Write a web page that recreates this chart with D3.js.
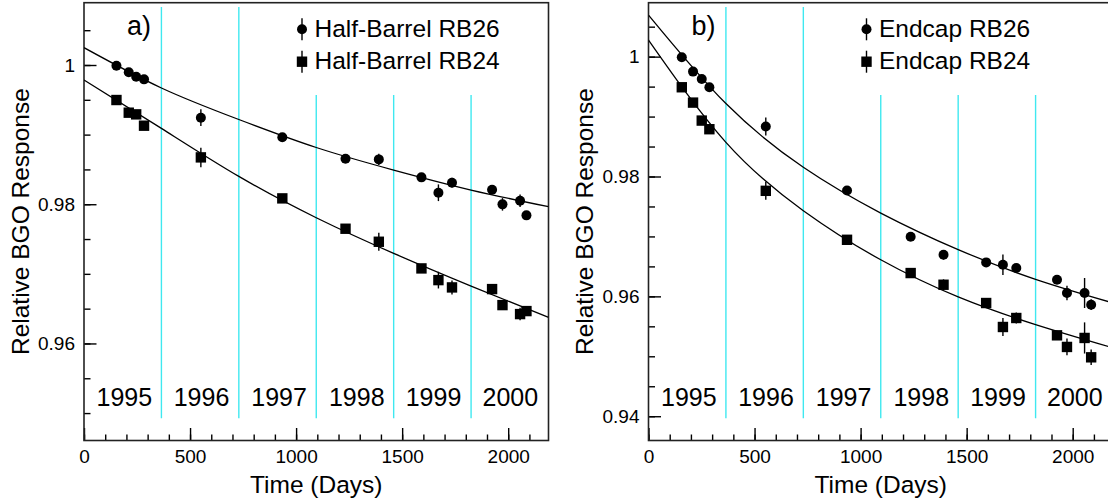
<!DOCTYPE html>
<html>
<head>
<meta charset="utf-8">
<script src="https://cdn.jsdelivr.net/npm/d3@7"></script>
<style>
body { margin: 0; background: #fff; }
svg text { font-family: "Liberation Sans", Arial, Helvetica, sans-serif; fill: #000; }
</style>
</head>
<body>
<div id="chart"></div>
<script>
var barrelDays = [153, 211, 246, 283, 551, 935, 1233, 1390, 1591, 1671, 1735, 1924, 1973, 2056, 2086];
var barrelRB26 = [0.9999, 0.99895, 0.99832, 0.99794, 0.99243, 0.98961, 0.98654, 0.98644, 0.98386, 0.98165, 0.98309, 0.98209, 0.97998, 0.9805, 0.9784];
var barrelRB26Err = [0.0003, 0.0003, 0.0003, 0.0003, 0.0012, 0.0004, 0.0004, 0.0008, 0.0004, 0.0012, 0.0007, 0.0004, 0.0009, 0.0009, 0.0006];
var barrelRB24 = [0.99497, 0.99315, 0.99291, 0.99128, 0.98673, 0.98084, 0.97648, 0.97461, 0.97078, 0.9691, 0.96805, 0.96781, 0.96551, 0.96422, 0.96465];
var barrelRB24Err = [0.0003, 0.0003, 0.0003, 0.0003, 0.0014, 0.0004, 0.0004, 0.0013, 0.0004, 0.0012, 0.001, 0.0004, 0.0005, 0.0009, 0.0006];

var endcapDays = [157, 210, 251, 287, 553, 936, 1236, 1391, 1592, 1671, 1734, 1926, 1973, 2056, 2087];
var endcapRB26 = [0.99989, 0.9975, 0.99628, 0.99489, 0.98833, 0.97767, 0.96994, 0.96694, 0.96567, 0.96528, 0.96472, 0.96278, 0.96056, 0.96056, 0.95861];
var endcapRB26Err = [0.0003, 0.0003, 0.0003, 0.0003, 0.0015, 0.0004, 0.0004, 0.0008, 0.0004, 0.0017, 0.0006, 0.0004, 0.0012, 0.0025, 0.0009];
var endcapRB24 = [0.99489, 0.99233, 0.98933, 0.98789, 0.97761, 0.96944, 0.96389, 0.96194, 0.95889, 0.95489, 0.95639, 0.9535, 0.95156, 0.95306, 0.94983];
var endcapRB24Err = [0.0003, 0.0003, 0.0003, 0.0003, 0.0015, 0.0006, 0.0004, 0.0009, 0.0004, 0.0015, 0.0009, 0.0005, 0.0014, 0.0026, 0.0013];

// fitted curves, read at the year boundaries
var fitDays = [0, 365, 730, 1095, 1460, 1825, 2190];
var barrelFit26 = [1.00249, 0.9967, 0.99217, 0.98815, 0.98491, 0.98204, 0.97964];
var barrelFit24 = [0.99784, 0.9909, 0.984, 0.97806, 0.97294, 0.96824, 0.96374];
var endcapFit26 = [1.00694, 0.99217, 0.98153, 0.9739, 0.9678, 0.96284, 0.9589];
var endcapFit24 = [1.00278, 0.9857, 0.9743, 0.9661, 0.9599, 0.95528, 0.9514];

// year boundaries and labels
var yearStarts = [365, 730, 1095, 1460, 1825];
var yearNames = ["1995", "1996", "1997", "1998", "1999", "2000"];
var yearLabelDays = [190, 554, 920, 1286, 1648, 2010];

var xTicks = [0, 500, 1000, 1500, 2000];
var barrelYTicks = [0.96, 0.98, 1];
var endcapYTicks = [0.94, 0.96, 0.98, 1];

var barrelLegend = ["Half-Barrel RB26", "Half-Barrel RB24"];
var endcapLegend = ["Endcap RB26", "Endcap RB24"];

var W = 1108, H = 503;
var plotW = 464.5, plotTop = 2.7, plotBottom = 440.5;

var svg = d3.select("#chart").append("svg")
    .attr("width", W)
    .attr("height", H);

var panels = [
    { left: 84, tag: "a)", yDomain: [0.94606, 1.00895], yTicks: barrelYTicks, legend: barrelLegend,
      days: barrelDays, s26: barrelRB26, e26: barrelRB26Err, s24: barrelRB24, e24: barrelRB24Err,
      fit26: barrelFit26, fit24: barrelFit24 },
    { left: 648.5, tag: "b)", yDomain: [0.93595, 1.009], yTicks: endcapYTicks, legend: endcapLegend,
      days: endcapDays, s26: endcapRB26, e26: endcapRB26Err, s24: endcapRB24, e24: endcapRB24Err,
      fit26: endcapFit26, fit24: endcapFit24 }
];

panels.forEach(function (p, i) {
    var x = d3.scaleLinear().domain([0, 2190]).range([p.left, p.left + plotW]);
    var y = d3.scaleLinear().domain(p.yDomain).range([plotBottom, plotTop]);
    var h = plotBottom - plotTop;
    var g = svg.append("g");

    g.append("clipPath").attr("id", "clip" + i)
        .append("rect")
        .attr("x", p.left).attr("y", plotTop)
        .attr("width", plotW).attr("height", h);

    // year separators
    g.selectAll(".year").data(yearStarts).enter().append("line")
        .attr("x1", function (d) { return x(d); })
        .attr("x2", function (d) { return x(d); })
        .attr("y1", function (d, k) { return plotTop + (k < 2 ? 0.01 : 0.211) * h; })
        .attr("y2", plotTop + 0.949 * h)
        .style("stroke", "#3fe8f0")
        .style("stroke-width", 1.4);

    g.selectAll(".yearlab").data(yearNames).enter().append("text")
        .attr("x", function (d, k) { return x(yearLabelDays[k]); })
        .attr("y", 406)
        .attr("text-anchor", "middle")
        .style("font-size", "25px")
        .text(function (d) { return d; });

    // minor ticks
    var minorY = d3.range(186, 203).map(function (k) { return k * 0.005; })
        .filter(function (v) { return v >= p.yDomain[0] && v <= p.yDomain[1]; });
    var minorX = d3.range(0, 22).map(function (k) { return k * 100; });

    var yMinor = g.append("g").attr("transform", "translate(" + p.left + ",0)")
        .call(d3.axisLeft(y).tickValues(minorY).tickSize(-6.5).tickFormat(""));
    var xMinor = g.append("g").attr("transform", "translate(0," + plotBottom + ")")
        .call(d3.axisBottom(x).tickValues(minorX).tickSize(-6).tickFormat(""));

    var yAxis = g.append("g").attr("transform", "translate(" + p.left + ",0)")
        .call(d3.axisLeft(y).tickValues(p.yTicks).tickSize(-12.5).tickPadding(9)
            .tickFormat(function (d) { return +d.toFixed(2); }));
    var xAxis = g.append("g").attr("transform", "translate(0," + plotBottom + ")")
        .call(d3.axisBottom(x).tickValues(xTicks).tickSize(-12.5).tickPadding(9)
            .tickFormat(d3.format("d")));

    [yMinor, xMinor, yAxis, xAxis].forEach(function (a) {
        a.select(".domain").remove();
        a.selectAll("line").style("stroke", "#000").style("stroke-width", 1.4);
        a.selectAll("text").style("font-size", "19px")
            .style("font-family", "'Liberation Sans', Arial, sans-serif");
    });

    // frame
    g.append("rect")
        .attr("x", p.left).attr("y", plotTop)
        .attr("width", plotW).attr("height", h)
        .style("fill", "none")
        .style("stroke", "#222")
        .style("stroke-width", 1.6);

    // fit curves
    var line = d3.line()
        .x(function (d, k) { return x(fitDays[k]); })
        .y(function (d) { return y(d); })
        .curve(d3.curveNatural);
    [p.fit26, p.fit24].forEach(function (f) {
        g.append("path").datum(f)
            .attr("d", line)
            .attr("clip-path", "url(#clip" + i + ")")
            .style("fill", "none")
            .style("stroke", "#000")
            .style("stroke-width", 1.3);
    });

    // error bars
    var errs = [];
    p.days.forEach(function (d, k) {
        errs.push({ t: d, v: p.s26[k], e: p.e26[k] });
        errs.push({ t: d, v: p.s24[k], e: p.e24[k] });
    });
    g.selectAll(".err").data(errs).enter().append("line")
        .attr("x1", function (d) { return x(d.t); })
        .attr("x2", function (d) { return x(d.t); })
        .attr("y1", function (d) { return y(d.v - d.e); })
        .attr("y2", function (d) { return y(d.v + d.e); })
        .style("stroke", "#000")
        .style("stroke-width", 1.4);

    // markers
    g.selectAll(".c26").data(p.s26).enter().append("circle")
        .attr("cx", function (d, k) { return x(p.days[k]); })
        .attr("cy", function (d) { return y(d); })
        .attr("r", 5)
        .style("fill", "#000");
    g.selectAll(".s24").data(p.s24).enter().append("rect")
        .attr("x", function (d, k) { return x(p.days[k]) - 5.2; })
        .attr("y", function (d) { return y(d) - 5.2; })
        .attr("width", 10.4).attr("height", 10.4)
        .style("fill", "#000");

    // legend
    var lx = p.left + 218;
    [29.3, 61.7].forEach(function (ly, k) {
        g.append("line")
            .attr("x1", lx).attr("x2", lx)
            .attr("y1", ly - 11).attr("y2", ly + 11)
            .style("stroke", "#000").style("stroke-width", 1.4);
        if (k == 0) {
            g.append("circle").attr("cx", lx).attr("cy", ly).attr("r", 5).style("fill", "#000");
        } else {
            g.append("rect").attr("x", lx - 5.2).attr("y", ly - 5.2).attr("width", 10.4).attr("height", 10.4).style("fill", "#000");
        }
        g.append("text")
            .attr("x", lx + 12.5)
            .attr("y", ly + 7.5)
            .style("font-size", "24.5px")
            .text(p.legend[k]);
    });

    g.append("text")
        .attr("x", p.left + 43)
        .attr("y", 35)
        .style("font-size", "27px")
        .text(p.tag);

    // axis titles
    g.append("text")
        .attr("transform", "translate(" + (p.left - 55.5) + "," + (plotTop + h / 2) + ") rotate(-90)")
        .attr("text-anchor", "middle")
        .style("font-size", "24.5px")
        .text("Relative BGO Response");
    g.append("text")
        .attr("x", p.left + plotW / 2)
        .attr("y", 493)
        .attr("text-anchor", "middle")
        .style("font-size", "24.5px")
        .text("Time (Days)");
});
</script>
</body>
</html>
